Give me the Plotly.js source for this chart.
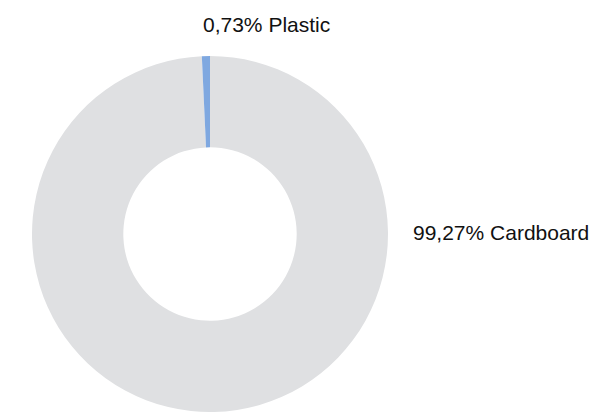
<!DOCTYPE html>
<html>
<head>
<meta charset="utf-8">
<script src="https://cdn.plot.ly/plotly-3.0.1.min.js"></script>
<style>html,body{margin:0;padding:0;background:#fff;}#chart{width:590px;height:412px;}</style>
</head>
<body>
<div id="chart"></div>
<script>
const labels = ["Cardboard", "Plastic"];
const values = [99.27, 0.73];
const valueText = ["99,27%", "0,73%"];
const colors = ["#dfe0e2", "#7fa8e0"];

const data = [{
  type: "pie",
  labels: labels,
  values: values,
  hole: 0.487,
  sort: false,
  direction: "clockwise",
  rotation: 0,
  marker: {colors: colors, line: {width: 0}},
  textinfo: "none",
  hoverinfo: "label+percent",
  showlegend: false,
  domain: {x: [32/590, 388/590], y: [0, 356/412]}
}];

const font = {family: "Liberation Sans, Arial, Helvetica, sans-serif", size: 21, color: "#111"};
const layout = {
  width: 590, height: 412,
  margin: {l: 0, r: 0, t: 0, b: 0},
  paper_bgcolor: "#ffffff",
  showlegend: false,
  annotations: [
    {text: valueText[1] + " " + labels[1], x: 266.7/590, y: 1 - 25/412, xref: "paper", yref: "paper",
     xanchor: "center", yanchor: "middle", showarrow: false, font: font},
    {text: valueText[0] + " " + labels[0], x: 411/590, y: 1 - 232/412, xref: "paper", yref: "paper",
     xanchor: "left", yanchor: "middle", showarrow: false, font: font}
  ]
};
Plotly.newPlot("chart", data, layout, {displayModeBar: false, staticPlot: true});
</script>
</body>
</html>
